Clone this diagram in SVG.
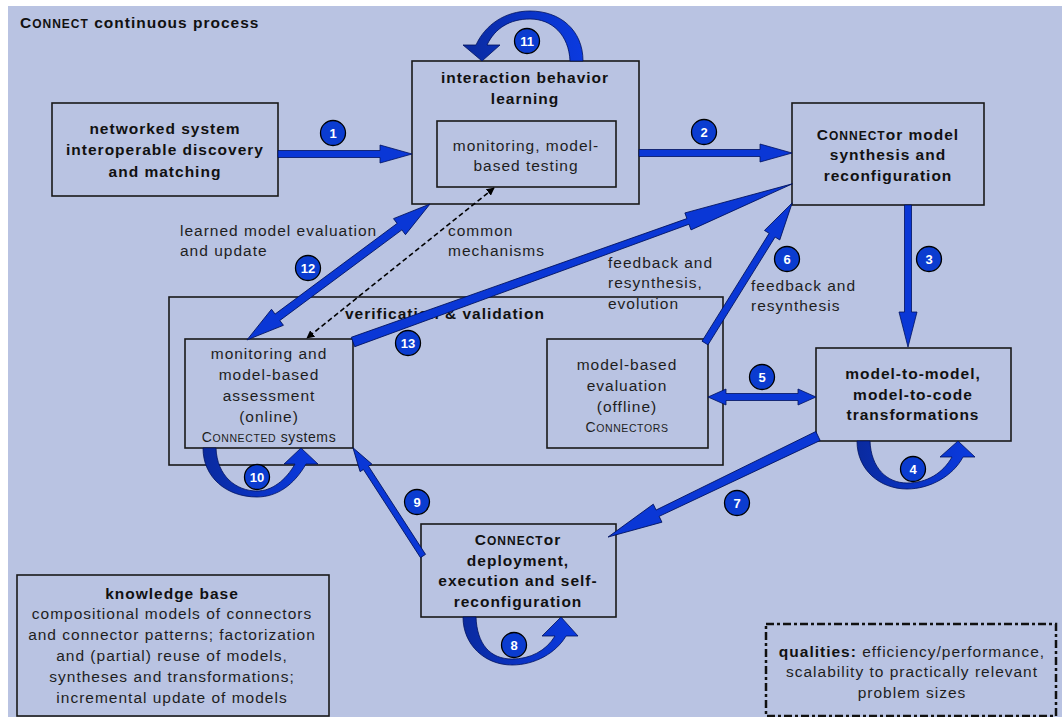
<svg xmlns="http://www.w3.org/2000/svg" width="1062" height="717" viewBox="0 0 1062 717">
<defs>
<style>
.box{fill:none;stroke:#1a1a1a;stroke-width:1.6}
.t{font-family:"Liberation Sans",Arial,sans-serif;font-size:15.5px;letter-spacing:1px;fill:#1e1e1e}
.b{font-weight:bold;fill:#111}
.c{text-anchor:middle}
.sc{font-size:12px}
.arr{fill:#0a37d6;stroke:#00125e;stroke-width:0.8;stroke-linejoin:miter}
.loop{fill:url(#lg);stroke:#00125e;stroke-width:0.8}
.bd circle{fill:#0b3cd0;stroke:#000;stroke-width:1.3}
.bd text{font-family:"Liberation Sans",Arial,sans-serif;font-size:13px;font-weight:bold;fill:#fff;text-anchor:middle}
</style>
<linearGradient id="lg" x1="0" y1="0" x2="1" y2="0">
<stop offset="0" stop-color="#0a2a9e"/>
<stop offset="0.5" stop-color="#0a33c4"/>
<stop offset="1" stop-color="#0a3ae0"/>
</linearGradient>
<marker id="ah" viewBox="0 0 10 10" refX="9" refY="5" markerWidth="8" markerHeight="8" orient="auto-start-reverse" markerUnits="userSpaceOnUse">
<path d="M0,0 L10,5 L0,10 z" fill="#000"/>
</marker>
</defs>
<rect x="0" y="0" width="1062" height="717" fill="#fff"/>
<rect x="8" y="6" width="1054" height="711" fill="#b9c3e2"/>
<text class="t b" x="20" y="28" style="font-size:15.5px">C<tspan style="font-size:12px">ONNECT</tspan> continuous process</text>

<g id="node-discovery">
<rect class="box" x="52" y="103" width="226" height="93"/>
<text class="t b c" x="165" y="134">networked system</text>
<text class="t b c" x="165" y="155">interoperable discovery</text>
<text class="t b c" x="165" y="177">and matching</text>
</g>
<g id="node-learning">
<rect class="box" x="412" y="61" width="227" height="143"/>
<text class="t b c" x="525" y="83">interaction behavior</text>
<text class="t b c" x="525" y="104">learning</text>
<rect class="box" x="437" y="121" width="179" height="66"/>
<text class="t c" x="526" y="151">monitoring, model-</text>
<text class="t c" x="526" y="171">based testing</text>
</g>
<g id="node-synthesis">
<rect class="box" x="792" y="103" width="192" height="102"/>
<text class="t b c" x="888" y="140">C<tspan class="sc">ONNECT</tspan>or model</text>
<text class="t b c" x="888" y="160">synthesis and</text>
<text class="t b c" x="888" y="181">reconfiguration</text>
</g>
<g id="node-transform">
<rect class="box" x="816" y="348" width="195" height="93"/>
<text class="t b c" x="913" y="379">model-to-model,</text>
<text class="t b c" x="913" y="400">model-to-code</text>
<text class="t b c" x="913" y="420">transformations</text>
</g>
<g id="node-vv">
<rect class="box" x="169" y="297" width="554" height="168"/>
<text class="t b" x="345" y="319">verification &amp; validation</text>
</g>
<g id="node-monitoring">
<rect class="box" x="185" y="339" width="168" height="109"/>
<text class="t c" x="269" y="359">monitoring and</text>
<text class="t c" x="269" y="380">model-based</text>
<text class="t c" x="269" y="401">assessment</text>
<text class="t c" x="269" y="422">(online)</text>
<text class="t c" x="269" y="442" style="font-size:14px;letter-spacing:0.6px">C<tspan style="font-size:10.5px">ONNECTED</tspan> systems</text>
</g>
<g id="node-evaluation">
<rect class="box" x="547" y="339" width="161" height="109"/>
<text class="t c" x="627" y="370">model-based</text>
<text class="t c" x="627" y="391">evaluation</text>
<text class="t c" x="627" y="412">(offline)</text>
<text class="t c" x="627" y="432" style="font-size:14px;letter-spacing:0.6px">C<tspan style="font-size:10.5px">ONNECTORS</tspan></text>
</g>
<g id="node-deployment">
<rect class="box" x="421" y="524" width="195" height="93"/>
<text class="t b c" x="518" y="545">C<tspan class="sc">ONNECT</tspan>or</text>
<text class="t b c" x="518" y="566">deployment,</text>
<text class="t b c" x="518" y="586">execution and self-</text>
<text class="t b c" x="518" y="607">reconfiguration</text>
</g>
<g id="node-knowledge">
<rect class="box" x="17" y="575" width="312" height="141"/>
<text class="t b c" x="172" y="599">knowledge base</text>
<text class="t c" x="172" y="619">compositional models of connectors</text>
<text class="t c" x="172" y="640">and connector patterns; factorization</text>
<text class="t c" x="172" y="661">and (partial) reuse of models,</text>
<text class="t c" x="172" y="682">syntheses and transformations;</text>
<text class="t c" x="172" y="703">incremental update of models</text>
</g>
<g id="node-qualities">
<rect x="766" y="624" width="290" height="92" fill="none" stroke="#111" stroke-width="2.5" stroke-dasharray="8,3,3,3"/>
<text class="t c" x="912" y="657"><tspan class="b">qualities:</tspan> efficiency/performance,</text>
<text class="t c" x="912" y="677">scalability to practically relevant</text>
<text class="t c" x="912" y="698">problem sizes</text>
</g>

<g id="labels">
<text class="t" x="180" y="236">learned model evaluation</text>
<text class="t" x="180" y="256">and update</text>
<text class="t" x="448" y="236">common</text>
<text class="t" x="448" y="256">mechanisms</text>
<text class="t" x="608" y="268">feedback and</text>
<text class="t" x="608" y="288">resynthesis,</text>
<text class="t" x="608" y="309">evolution</text>
<text class="t" x="751" y="291">feedback and</text>
<text class="t" x="751" y="311">resynthesis</text>
</g>

<g id="connectors">
<polygon class="arr" points="278,150.5 380,150.5 380,145 412,154 380,163 380,157.5 278,157.5"/>
<polygon class="arr" points="639,149.5 760,149.5 760,144 792,153 760,162 760,156.5 639,156.5"/>
<polygon class="arr" points="904.5,205 904.5,312 899,312 908,347 917,312 911.5,312 911.5,205"/>
<polygon class="arr" points="708,397 726,389 726,393.5 798,393.5 798,389 816,397 798,405 798,400.5 726,400.5 726,405"/>
<g transform="translate(705,343) rotate(-58.1)"><polygon class="arr" points="0,-3.5 127,-3.5 127,-9 165,0 127,9 127,3.5 0,3.5"/></g>
<g transform="translate(818,436) rotate(154.3)"><polygon class="arr" points="0,-5 178,-3.5 178,-10 233,0 178,10 178,3.5 0,5"/></g>
<g transform="translate(353,342) rotate(-19.8)"><polygon class="arr" points="0,-5 356,-3 356,-9 467,0 356,9 356,3 0,5"/></g>
<g transform="translate(430,204) rotate(143.4)"><polygon class="arr" points="0,0 38,-10 38,-4 190,-4 190,-10 228,0 190,10 190,4 38,4 38,10"/></g>
<g transform="translate(423,556) rotate(-122.9)"><polygon class="arr" points="0,-3 105,-3 105,-7 129,0 105,7 105,3 0,3"/></g>
<line x1="494" y1="188" x2="307" y2="338" stroke="#000" stroke-width="1.6" stroke-dasharray="5,3" marker-start="url(#ah)" marker-end="url(#ah)"/>
<path class="loop" d="M583,61 C583,30 560,11 530,11 C505,11 485,25 476,45 L463,45 L482,61 L500,45 L487,45 C495,28 510,19 530,19 C552,19 569,35 570,61 Z"/>
<path class="loop" d="M857,441 C857,470 880,489 907,489 C930,489 953,476 963,457 L975,457 L958,441 L940,457 L952,457 C943,473 927,483 907,483 C887,483 871,468 870,441 Z"/>
<path class="loop" d="M203,448 C203,477 226,497 257,497 C277,497 294,485 306,464 L318,464 L301,448 L284,464 L295,464 C286,480 272,491 257,491 C236,491 217,476 216,448 Z"/>
<path class="loop" d="M463,617 C463,645 485,665 512,665 C535,665 556,653 566,636 L578,636 L561,617 L542,636 L555,636 C546,651 530,659 512,659 C490,659 477,644 476,617 Z"/>
</g>

<g id="badges">
<g class="bd"><circle cx="333" cy="133" r="12.5"/><text x="333" y="138">1</text></g>
<g class="bd"><circle cx="704" cy="132" r="12.5"/><text x="704" y="137">2</text></g>
<g class="bd"><circle cx="929" cy="259" r="12.5"/><text x="929" y="264">3</text></g>
<g class="bd"><circle cx="913" cy="469" r="12.5"/><text x="913" y="474">4</text></g>
<g class="bd"><circle cx="762" cy="377" r="12.5"/><text x="762" y="382">5</text></g>
<g class="bd"><circle cx="787" cy="259" r="12.5"/><text x="787" y="264">6</text></g>
<g class="bd"><circle cx="737" cy="503" r="12.5"/><text x="737" y="508">7</text></g>
<g class="bd"><circle cx="514" cy="645" r="12.5"/><text x="514" y="650">8</text></g>
<g class="bd"><circle cx="417" cy="502" r="12.5"/><text x="417" y="507">9</text></g>
<g class="bd"><circle cx="257" cy="477" r="12.5"/><text x="257" y="482">10</text></g>
<g class="bd"><circle cx="527" cy="41" r="12.5"/><text x="527" y="46">11</text></g>
<g class="bd"><circle cx="308" cy="268" r="12.5"/><text x="308" y="273">12</text></g>
<g class="bd"><circle cx="408" cy="343" r="12.5"/><text x="408" y="348">13</text></g>
</g>
</svg>
